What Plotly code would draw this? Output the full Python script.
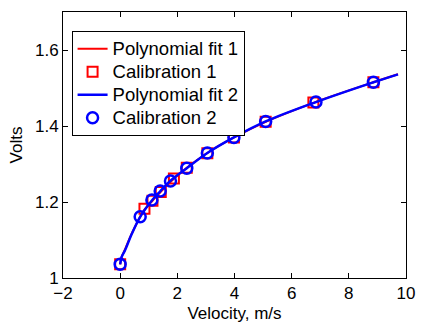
import plotly.graph_objects as go

# Calibration data
cal1_velocity = [0.0, 0.85, 1.13, 1.42, 1.88, 2.33, 3.05, 3.98, 5.09, 6.76, 8.86]
cal1_volts = [1.036, 1.182, 1.203, 1.226, 1.262, 1.290, 1.328, 1.370, 1.411, 1.462, 1.515]

cal2_velocity = [0.0, 0.70, 1.11, 1.40, 1.76, 2.33, 3.05, 3.98, 5.09, 6.85, 8.86]
cal2_volts = [1.036, 1.161, 1.205, 1.229, 1.255, 1.289, 1.329, 1.370, 1.412, 1.463, 1.515]

# Polynomial fit curves
fit1_velocity = [0.0, 0.05, 0.17, 0.40, 0.85, 1.13, 1.42, 1.88, 2.33, 3.05, 3.98, 5.09, 6.76, 8.86, 9.72]
fit1_volts = [1.036, 1.055, 1.075, 1.116, 1.180, 1.203, 1.227, 1.261, 1.290, 1.329, 1.370, 1.411, 1.461, 1.515, 1.536]

fit2_velocity = [0.0, 0.05, 0.17, 0.40, 0.70, 1.11, 1.40, 1.76, 2.33, 3.05, 3.98, 5.09, 6.85, 8.86, 9.72]
fit2_volts = [1.036, 1.055, 1.073, 1.115, 1.161, 1.204, 1.228, 1.256, 1.289, 1.329, 1.370, 1.412, 1.463, 1.515, 1.536]

series_names = ["Polynomial fit 1", "Calibration 1", "Polynomial fit 2", "Calibration 2"]

x_ticks = [-2, 0, 2, 4, 6, 8, 10]
y_ticks = [1.0, 1.2, 1.4, 1.6]
y_tick_text = ["1", "1.2", "1.4", "1.6"]

FONT = "Arial, Liberation Sans, Helvetica, sans-serif"


def legend_name(s):
    return '<span style="font-size:18.5px">' + s + '</span>'


fig = go.Figure()
fig.add_trace(go.Scatter(x=fit1_velocity, y=fit1_volts, mode="lines",
                         line=dict(color="#ff0000", width=2, shape="spline"),
                         name=legend_name(series_names[0])))
fig.add_trace(go.Scatter(x=cal1_velocity, y=cal1_volts, mode="markers",
                         marker=dict(symbol="square-open", size=10, color="#ff0000",
                                     line=dict(width=2, color="#ff0000")),
                         name=legend_name(series_names[1])))
fig.add_trace(go.Scatter(x=fit2_velocity, y=fit2_volts, mode="lines",
                         line=dict(color="#0000ff", width=2.5, shape="spline"),
                         name=legend_name(series_names[2])))
fig.add_trace(go.Scatter(x=cal2_velocity, y=cal2_volts, mode="markers",
                         marker=dict(symbol="circle-open", size=11, color="#0000ff",
                                     line=dict(width=2.5, color="#0000ff")),
                         name=legend_name(series_names[3])))

fig.update_layout(
    width=425, height=329,
    margin=dict(l=63, r=10, t=12, b=44),
    paper_bgcolor="white", plot_bgcolor="white",
    font=dict(family=FONT, size=17, color="black"),
    showlegend=True,
    legend=dict(x=0.025, y=0.928, xanchor="left", yanchor="top",
                bgcolor="white", bordercolor="black", borderwidth=1,
                font=dict(family=FONT, size=15.4, color="black"),
                tracegroupgap=0, itemwidth=30),
    xaxis=dict(range=[-2, 10], tickvals=x_ticks, ticks="inside", ticklen=5,
               tickcolor="black", showline=True, linecolor="black", linewidth=1,
               mirror="ticks", showgrid=False, zeroline=False,
               tickfont=dict(size=17),
               title=dict(text="Velocity, m/s", font=dict(size=17), standoff=4)),
    yaxis=dict(range=[1.0, 1.7], tickvals=y_ticks, ticktext=y_tick_text, ticks="inside",
               ticklen=5, tickcolor="black", showline=True, linecolor="black",
               linewidth=1, mirror="ticks", showgrid=False, zeroline=False,
               tickfont=dict(size=17),
               title=dict(text="Volts", font=dict(size=17), standoff=8)),
)

fig.write_html("out.html")
